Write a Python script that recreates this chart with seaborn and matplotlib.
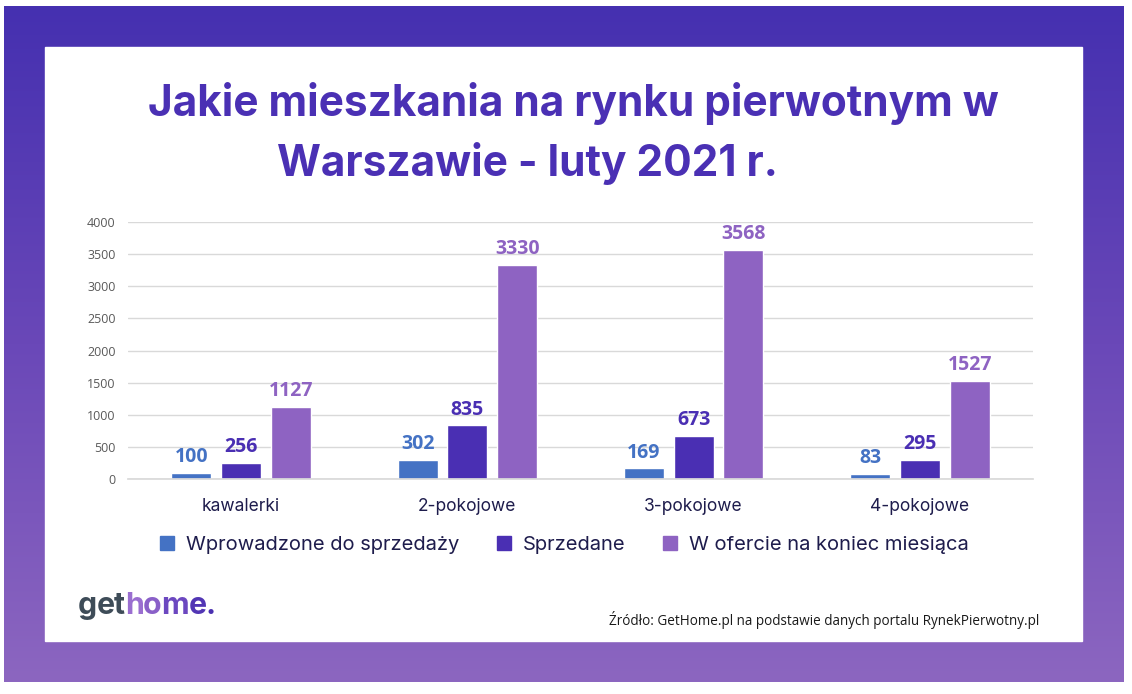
import matplotlib
matplotlib.use("Agg")
import numpy as np
import pandas as pd
import seaborn as sns
import matplotlib.pyplot as plt
from matplotlib.colors import LinearSegmentedColormap
from matplotlib.patches import Rectangle
from matplotlib.lines import Line2D

# --- data ---
categories = ["kawalerki", "2-pokojowe", "3-pokojowe", "4-pokojowe"]
series = ["Wprowadzone do sprzedaży", "Sprzedane", "W ofercie na koniec miesiąca"]
wprowadzone = [100, 302, 169, 83]
sprzedane = [256, 835, 673, 295]
w_ofercie = [1127, 3330, 3568, 1527]
y_ticks = [0, 500, 1000, 1500, 2000, 2500, 3000, 3500, 4000]

title_lines = ["Jakie mieszkania na rynku pierwotnym w", "Warszawie - luty 2021 r."]
source = "Źródło: GetHome.pl na podstawie danych portalu RynekPierwotny.pl"

colors = ["#4472c4", "#4a2fb3", "#8e63c2"]
title_color = "#4a30b4"
label_color = "#1e1c4c"

df = pd.DataFrame({
    "kategoria": categories * 3,
    "seria": [series[0]] * 4 + [series[1]] * 4 + [series[2]] * 4,
    "liczba": wprowadzone + sprzedane + w_ofercie,
})

W, H = 1132, 694
sns.set_theme(style="white")
plt.rcParams["font.family"] = ["Open Sans", "DejaVu Sans"]
geo = ["Inter", "DejaVu Sans"]

fig = plt.figure(figsize=(W / 100, H / 100), dpi=100)
fig.patch.set_facecolor("white")

# background frame in pixel coordinates
bg = fig.add_axes([0, 0, 1, 1], zorder=-10)
grad = np.linspace(0, 1, 256)[:, None]
cmap = LinearSegmentedColormap.from_list("frame", ["#4530b0", "#6a48b8", "#8c66c0"])
bg.imshow(grad, extent=(4, 1124, 682, 6), cmap=cmap, aspect="auto")
bg.add_patch(Rectangle((45, 47), 1037, 594, color="white"))
bg.set_xlim(0, W)
bg.set_ylim(H, 0)
bg.axis("off")


def fx(px):
    return px / W


def fy(py):
    return 1 - py / H


renderer = fig.canvas.get_renderer()


def fit_size(txt, width_px):
    bb = txt.get_window_extent(renderer)
    txt.set_fontsize(txt.get_fontsize() * width_px / bb.width)
    return txt


# title - both lines share one size, fitted on the first line
t1 = fig.text(fx(573), fy(116), title_lines[0], color=title_color, fontsize=28,
              fontweight="bold", family=geo, ha="center", va="baseline")
fit_size(t1, 850)
fig.text(fx(527), fy(176), title_lines[1], color=title_color, fontsize=t1.get_fontsize(),
         fontweight="bold", family=geo, ha="center", va="baseline")

# chart
ax = fig.add_axes([fx(128), fy(479), (1033 - 128) / W, (479 - 222) / H])
sns.barplot(data=df, x="kategoria", y="liczba", hue="seria", hue_order=series,
            order=categories, palette=colors, saturation=1, width=0.66, gap=0.2,
            errorbar=None, legend=False, ax=ax)
ax.set_ylim(0, 4000)
ax.set_yticks(y_ticks)
ax.set_xlabel("")
ax.set_ylabel("")
ax.yaxis.grid(True, color="#d9d9d9", lw=1)
ax.set_axisbelow(True)
for s in ["top", "right", "left"]:
    ax.spines[s].set_visible(False)
ax.spines["bottom"].set_color("#d9d9d9")
ax.tick_params(axis="y", length=0, pad=9, labelsize=9, labelcolor="#595959")
ax.tick_params(axis="x", length=0, pad=14, labelsize=12.5, labelcolor=label_color)
for lab in ax.get_xticklabels():
    lab.set_family(geo)
ax.set_facecolor("none")

for cont, c in zip(ax.containers, colors):
    ax.bar_label(cont, padding=4, color=c, fontsize=14, fontweight="bold", clip_on=False)

# legend
handles = [Line2D([], [], marker="s", ls="", color=c, markersize=10) for c in colors]
fig.legend(handles, series, loc="center left", bbox_to_anchor=(fx(139), fy(545)),
           ncol=3, frameon=False, handletextpad=0.45, columnspacing=1.7,
           prop={"family": geo, "size": 14.5},
           labelcolor=label_color, handlelength=1)

# logo
x = 78
logo_parts = [("g", "#3e4c58"), ("e", "#3e4c58"), ("t", "#3e4c58"),
              ("h", "#9a6ed0"), ("o", "#8a60c8"), ("m", "#6c48c0"), ("e", "#5236b4"),
              (".", "#4a30b0")]
for ch, c in logo_parts:
    t = fig.text(fx(x), fy(614), ch, color=c, fontsize=21.8, fontweight="bold",
                 family=geo, ha="left", va="baseline")
    x += t.get_window_extent(renderer).width - 0.5

# source
src = fig.text(fx(609), fy(625), source, color="#1a1a1a", fontsize=9.5,
               ha="left", va="baseline")
fit_size(src, 434)

fig.savefig("out.png", dpi=100)
